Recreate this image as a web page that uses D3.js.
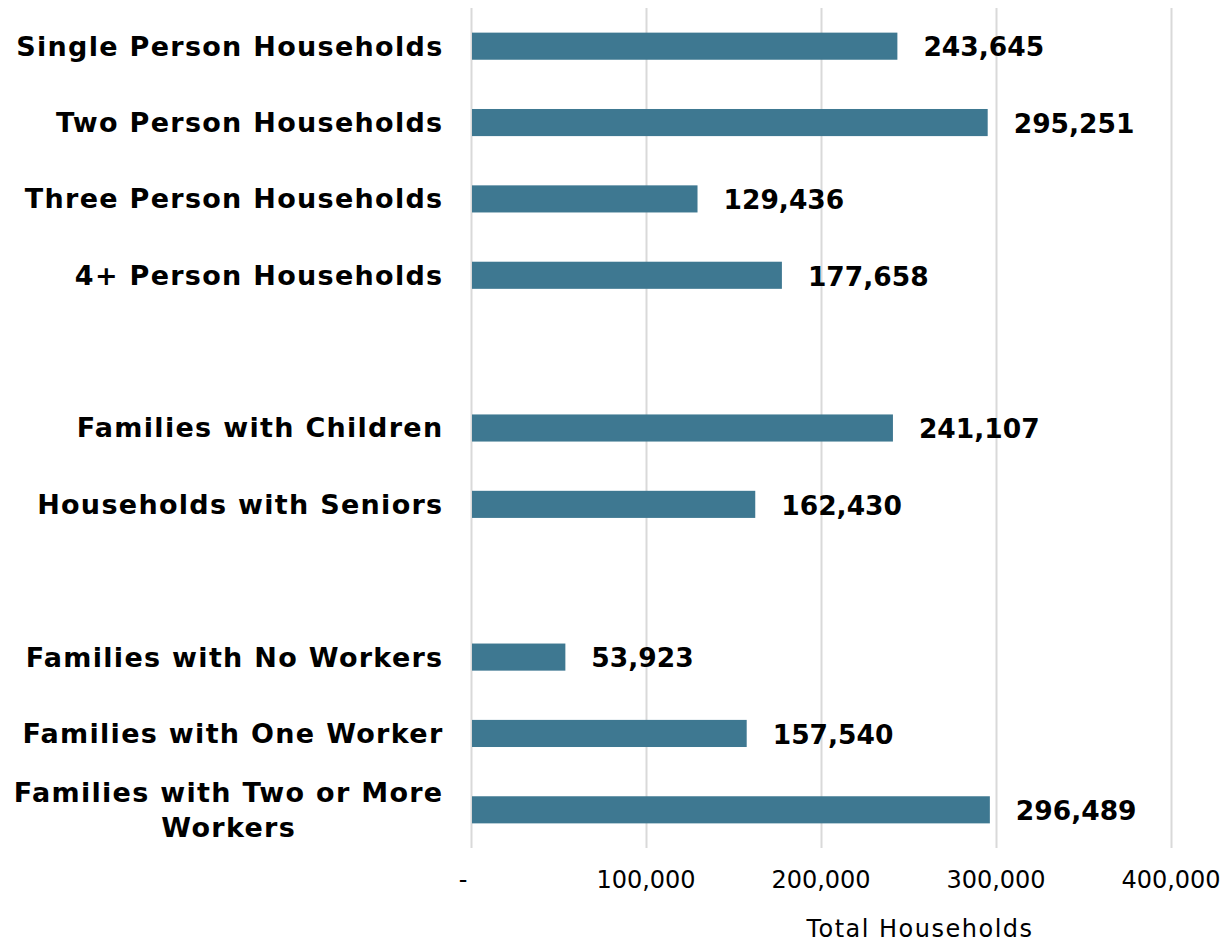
<!DOCTYPE html>
<html>
<head>
<meta charset="utf-8">
<script src="https://cdn.jsdelivr.net/npm/d3@7"></script>
<style>
  body { margin: 0; background: #fff; }
  svg { display: block; font-family: "DejaVu Sans", Verdana, sans-serif; }
</style>
</head>
<body>
<svg id="chart" width="1221" height="942"></svg>
<script>
// Household counts, grouped; an empty slot separates the groups
const sizeCategories = ["Single Person Households", "Two Person Households", "Three Person Households", "4+ Person Households"];
const sizeValues = [243645, 295251, 129436, 177658];

const typeCategories = ["Families with Children", "Households with Seniors"];
const typeValues = [241107, 162430];

const workerCategories = ["Families with No Workers", "Families with One Worker", "Families with Two or More Workers"];
const workerValues = [53923, 157540, 296489];

const xTicks = [0, 100000, 200000, 300000, 400000];
const xTickLabels = ["-", "100,000", "200,000", "300,000", "400,000"];
const xTitle = "Total Households";

// Build the rows, with blank spacer slots between groups
const groups = [
  [sizeCategories, sizeValues],
  [typeCategories, typeValues],
  [workerCategories, workerValues]
];
const rows = [];
const domain = [];
groups.forEach(([cats, vals], gi) => {
  if (gi > 0) domain.push("__gap" + gi);
  cats.forEach((c, i) => { rows.push({ name: c, value: vals[i] }); domain.push(c); });
});

const svg = d3.select("#chart");
const plotLeft = 471, plotRight = 1171, plotTop = 8, plotBottom = 848;

const x = d3.scaleLinear().domain([0, 400000]).range([plotLeft, plotRight]);
const y = d3.scaleBand().domain(domain).range([plotTop, plotBottom])
  .paddingInner(0.645).paddingOuter(0.3225);

// Vertical gridlines
svg.append("g").selectAll("line").data(xTicks).join("line")
  .attr("x1", d => x(d) + 0.5).attr("x2", d => x(d) + 0.5)
  .attr("y1", plotTop).attr("y2", plotBottom)
  .attr("stroke", "#d9d9d9").attr("stroke-width", 2);

// Bars
svg.append("g").selectAll("rect").data(rows).join("rect")
  .attr("x", x(0) + 1)
  .attr("y", d => y(d.name))
  .attr("width", d => x(d.value) - x(0) - 1)
  .attr("height", y.bandwidth())
  .attr("fill", "#3e7891");

// Value labels
const fmt = d3.format(",");
svg.append("g").selectAll("text").data(rows).join("text")
  .attr("x", d => x(d.value) + 26)
  .attr("y", d => y(d.name) + y.bandwidth() / 2 + 1)
  .attr("dy", "0.35em")
  .attr("font-size", 26.5).attr("font-weight", "bold").attr("fill", "#000")
  .text(d => fmt(d.value));

// Category labels (long ones wrap onto two centred lines)
const labelRight = 443.5;
const wrapWidth = 440;
const labelG = svg.append("g");
rows.forEach(d => {
  const cy = y(d.name) + y.bandwidth() / 2;
  const t = labelG.append("text")
    .attr("font-size", 27).attr("font-weight", "bold").attr("fill", "#000")
    .attr("letter-spacing", 1.3)
    .attr("text-anchor", "end").attr("x", labelRight).attr("y", cy).attr("dy", "0.35em")
    .text(d.name);
  if (t.node().getComputedTextLength() > wrapWidth) {
    const words = d.name.split(" ");
    const line1 = words.slice(0, -1).join(" ");
    const line2 = words[words.length - 1];
    t.text(line1);
    const w = t.node().getComputedTextLength();
    const cx = labelRight - w / 2;
    t.text(null).attr("text-anchor", "middle").attr("x", null).attr("y", null).attr("dy", null);
    t.append("tspan").attr("x", cx).attr("y", cy - 17.5).attr("dy", "0.35em").text(line1);
    t.append("tspan").attr("x", cx).attr("y", cy + 17.5).attr("dy", "0.35em").text(line2);
  }
});

// X axis tick labels
svg.append("g").selectAll("text").data(xTicks).join("text")
  .attr("x", (d, i) => i === 0 ? x(d) - 8 : x(d))
  .attr("y", 880).attr("dy", "0.35em")
  .attr("text-anchor", "middle")
  .attr("font-size", 24).attr("fill", "#000")
  .text((d, i) => xTickLabels[i]);

// Axis title
svg.append("text")
  .attr("x", 920).attr("y", 929).attr("dy", "0.35em")
  .attr("text-anchor", "middle").attr("font-size", 24).attr("letter-spacing", 1.5)
  .attr("fill", "#000")
  .text(xTitle);
</script>
</body>
</html>
